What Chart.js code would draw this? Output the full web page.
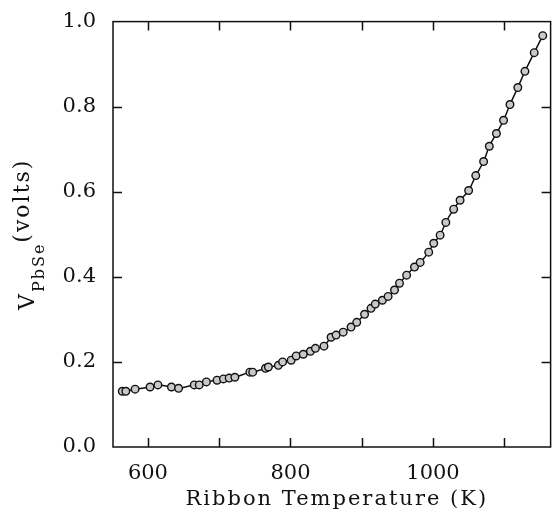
<!DOCTYPE html>
<html>
<head>
<meta charset="utf-8">
<script src="https://cdn.jsdelivr.net/npm/chart.js@4.4.1/dist/chart.umd.min.js"></script>
<style>
  html, body { margin: 0; padding: 0; background: #fff; }
  #wrap { width: 556px; height: 512px; position: relative; }
</style>
</head>
<body>
<div id="wrap"><canvas id="chart"></canvas></div>
<script>
// ribbon temperature (K)
const temperatures = [
    564, 569, 582, 603, 614, 633, 643, 665, 672, 682,
    697, 706, 714, 722, 743, 747, 765, 769, 783, 789,
    801, 808, 818, 828, 835, 847, 857, 864, 874, 885,
    893, 904, 913, 919, 929, 937, 946, 953, 963, 974,
    982, 994, 1001, 1010, 1018, 1029, 1038, 1050, 1060, 1071,
    1079, 1089, 1099, 1108, 1119, 1129, 1142, 1154
]
// V PbSe (volts)
const voltages = [
    0.131, 0.131, 0.136, 0.141, 0.146, 0.141, 0.138, 0.146, 0.146, 0.153,
    0.157, 0.160, 0.162, 0.164, 0.176, 0.176, 0.185, 0.188, 0.192, 0.200,
    0.204, 0.214, 0.218, 0.225, 0.232, 0.237, 0.258, 0.263, 0.270, 0.282,
    0.293, 0.312, 0.326, 0.336, 0.345, 0.354, 0.369, 0.385, 0.404, 0.423,
    0.434, 0.458, 0.479, 0.498, 0.528, 0.559, 0.580, 0.603, 0.638, 0.671,
    0.707, 0.737, 0.768, 0.805, 0.845, 0.883, 0.927, 0.967
]
const xTicks = [600, 700, 800, 900, 1000, 1100]
const xLabelled = [600, 800, 1000]
const yTicks = [0, 0.2, 0.4, 0.6, 0.8, 1.0]
const xTitle = `Ribbon Temperature (K)`
//
const fontFamily = `"DejaVu Serif", serif`
const ink = `#111`

// frame on all four sides, with ticks pointing inwards
const innerTicks = {
    id: `innerTicks`,
    afterDraw(chart) {
        const { ctx, chartArea: a, scales } = chart
        ctx.save()
        ctx.strokeStyle = ink
        ctx.lineWidth = 1.5
        ctx.strokeRect(a.left, a.top, a.right - a.left, a.bottom - a.top)
        ctx.beginPath()
        xTicks.forEach(v => {
            const px = Math.round(scales.x.getPixelForValue(v)) + 0.5
            ctx.moveTo(px, a.bottom); ctx.lineTo(px, a.bottom - 9)
            ctx.moveTo(px, a.top); ctx.lineTo(px, a.top + 9)
        })
        yTicks.forEach(v => {
            if (v <= 0 || v >= 1) return
            const py = Math.round(scales.y.getPixelForValue(v)) + 0.5
            ctx.moveTo(a.left, py); ctx.lineTo(a.left + 9, py)
            ctx.moveTo(a.right, py); ctx.lineTo(a.right - 9, py)
        })
        ctx.stroke()
        ctx.restore()
    }
}

// axis titles; the y one carries a subscript
const axisTitles = {
    id: `axisTitles`,
    afterDraw(chart) {
        const { ctx, chartArea: a } = chart
        ctx.save()
        ctx.fillStyle = ink
        ctx.textBaseline = `middle`
        ctx.letterSpacing = `2px`
        // x
        ctx.font = `21px ${fontFamily}`
        ctx.textAlign = `center`
        ctx.fillText(xTitle, (a.left + a.right) / 2 + 5, 500)
        // y
        const midY = (a.top + a.bottom) / 2
        ctx.translate(28, midY)
        ctx.rotate(-Math.PI / 2)
        ctx.textAlign = `left`
        const big = `22px ${fontFamily}`
        const small = `16px ${fontFamily}`
        ctx.font = big
        const wV = ctx.measureText(`V`).width
        ctx.font = small
        const wSub = ctx.measureText(`PbSe`).width
        ctx.font = big
        const wUnit = ctx.measureText(`(volts)`).width
        let x0 = -(wV + wSub + wUnit) / 2
        ctx.fillText(`V`, x0, 0)
        ctx.font = small
        ctx.fillText(`PbSe`, x0 + wV, 12)
        ctx.font = big
        ctx.fillText(`(volts)`, x0 + wV + wSub, -5)
        ctx.restore()
    }
}

const points = temperatures.map((t, i) => ({ x: t, y: voltages[i] }))

new Chart(`chart`, {
    type: `scatter`,
    data: {
        datasets: [{
            data: points,
            showLine: true,
            borderColor: ink,
            borderWidth: 1.5,
            tension: 0.35,
            pointRadius: 3.8,
            pointBorderWidth: 1.4,
            pointBorderColor: ink,
            pointBackgroundColor: `#c8c8c8`
        }]
    },
    options: {
        responsive: true,
        maintainAspectRatio: false,
        animation: false,
        layout: { padding: { top: 21, right: 1, left: 0, bottom: 0 } },
        plugins: {
            legend: { display: false },
            tooltip: { enabled: false }
        },
        scales: {
            x: {
                type: `linear`,
                min: 551,
                max: 1165,
                grid: { display: false },
                border: { display: false },
                afterBuildTicks: s => { s.ticks = xTicks.map(v => ({ value: v })) },
                ticks: {
                    autoSkip: false,
                    maxRotation: 0,
                    padding: 6,
                    color: ink,
                    font: { family: fontFamily, size: 21 },
                    callback: v => xLabelled.includes(v) ? String(v) : ``
                },
                afterFit: s => { s.height = 65 }
            },
            y: {
                min: 0,
                max: 1,
                grid: { display: false },
                border: { display: false },
                afterBuildTicks: s => { s.ticks = yTicks.map(v => ({ value: v })) },
                ticks: {
                    padding: 9,
                    color: ink,
                    font: { family: fontFamily, size: 21 },
                    callback: v => Number(v).toFixed(1)
                },
                afterFit: s => { s.width = 113 }
            }
        }
    },
    plugins: [innerTicks, axisTitles]
})
</script>
</body>
</html>
